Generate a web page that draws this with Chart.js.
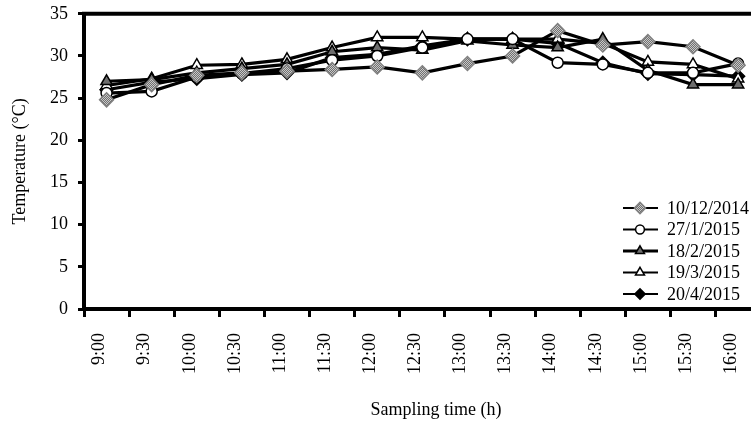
<!DOCTYPE html>
<html>
<head>
<meta charset="utf-8">
<script src="https://cdn.jsdelivr.net/npm/chart.js@4"></script>
<style>
html, body { margin: 0; padding: 0; overflow: hidden; background: #fff; }
#wrap { width: 776px; height: 430px; position: relative; margin-top: -7px; }
</style>
</head>
<body>
<div id="wrap"><canvas id="tempchart"></canvas></div>
<script>
const times = ['9:00', '9:30', '10:00', '10:30', '11:00', '11:30', '12:00', '12:30',
               '13:00', '13:30', '14:00', '14:30', '15:00', '15:30', '16:00']

const dec2014 = [24.8, 26.6, 27.7, 28.0, 28.2, 28.4, 28.7, 28.0, 29.1, 30.0, 33.0, 31.3, 31.7, 31.1, 28.9]
const jan2015 = [25.6, 25.8, 27.5, 27.9, 28.5, 29.5, 30.0, 31.0, 32.0, 32.0, 29.2, 29.0, 28.0, 28.0, 29.1]
const feb2015 = [27.0, 27.2, 28.0, 28.5, 29.0, 30.5, 31.0, 30.7, 31.8, 31.3, 31.0, 32.0, 28.3, 26.6, 26.6]
const mar2015 = [26.5, 27.3, 28.9, 29.0, 29.6, 31.0, 32.2, 32.2, 32.0, 32.0, 32.0, 31.5, 29.3, 29.0, 27.3]
const apr2015 = [26.0, 26.9, 27.3, 27.8, 28.0, 29.8, 30.2, 31.2, 32.0, 32.0, 31.5, 29.2, 27.9, 27.8, 27.6]

const seriesNames = ['10/12/2014', '27/1/2015', '18/2/2015', '19/3/2015', '20/4/2015']
const yTicks = [0, 5, 10, 15, 20, 25, 30, 35]

const serif = '"Liberation Serif", "Times New Roman", serif'
const shift = 7 // canvas sits 7px above the page top

// dotted grey fill like the excel marker
function greyPattern() {
    const c = document.createElement('canvas')
    c.width = 2; c.height = 2
    const g = c.getContext('2d')
    g.fillStyle = '#c8c8c8'; g.fillRect(0, 0, 2, 2)
    g.fillStyle = '#707070'; g.fillRect(0, 0, 1, 1); g.fillRect(1, 1, 1, 1)
    return g.createPattern(c, 'repeat')
}
const grey = greyPattern()

function line(label, data, style, fill, radius, border) {
    return {
        label: label,
        data: data,
        borderColor: '#000',
        borderWidth: 3.2,
        pointStyle: style,
        pointRadius: radius,
        pointHoverRadius: radius,
        pointBackgroundColor: fill,
        pointBorderColor: border,
        pointBorderWidth: 1.5,
        tension: 0,
        fill: false
    }
}

const frameTop = {
    id: 'frameTop',
    afterDatasetsDraw(chart) {
        const { ctx, chartArea } = chart
        ctx.save()
        ctx.strokeStyle = '#000'
        ctx.lineWidth = 4
        ctx.beginPath()
        ctx.moveTo(chartArea.left - 2, chartArea.top)
        ctx.lineTo(chartArea.right, chartArea.top)
        ctx.stroke()
        ctx.restore()
    }
}

const insideLegend = {
    id: 'insideLegend',
    afterDraw(chart) {
        const ctx = chart.ctx
        ctx.save()
        chart.data.datasets.forEach((ds, i) => {
            const y = 208 + shift + i * 21.5
            ctx.strokeStyle = '#000'
            ctx.lineWidth = i == 2 ? 3 : 2
            ctx.beginPath()
            ctx.moveTo(623, y)
            ctx.lineTo(658, y)
            ctx.stroke()
            ctx.fillStyle = ds.pointBackgroundColor
            ctx.strokeStyle = ds.pointBorderColor
            ctx.lineWidth = ds.pointBorderWidth
            Chart.helpers.drawPoint(ctx, {
                pointStyle: ds.pointStyle,
                radius: ds.pointRadius * 0.8,
                borderWidth: ds.pointBorderWidth,
                rotation: 0
            }, 640, y)
            ctx.fillStyle = '#000'
            ctx.font = '18px ' + serif
            ctx.textBaseline = 'middle'
            ctx.textAlign = 'left'
            ctx.fillText(ds.label, 667, y + 1)
        })
        // x axis title
        ctx.font = '18px ' + serif
        ctx.textAlign = 'center'
        ctx.fillText('Sampling time (h)', 436, 410 + shift)
        ctx.restore()
    }
}

const config = {
    type: 'line',
    data: {
        labels: times,
        datasets: [
            line(seriesNames[0], dec2014, 'rectRot', grey, 7, '#808080'),
            line(seriesNames[1], jan2015, 'circle', '#fff', 5.5, '#000'),
            line(seriesNames[2], feb2015, 'triangle', '#6e6e6e', 6.5, '#000'),
            line(seriesNames[3], mar2015, 'triangle', '#fff', 6.5, '#000'),
            line(seriesNames[4], apr2015, 'rectRot', '#000', 6.5, '#000')
        ]
    },
    options: {
        responsive: true,
        maintainAspectRatio: false,
        animation: false,
        layout: { padding: { left: 0, right: 0, top: 6, bottom: 0 } },
        plugins: {
            legend: { display: false },
            tooltip: { enabled: false }
        },
        scales: {
            x: {
                offset: true,
                grid: {
                    display: true,
                    offset: true,
                    drawOnChartArea: false,
                    drawTicks: true,
                    tickLength: 8,
                    tickWidth: 3,
                    tickColor: '#000'
                },
                border: { color: '#000', width: 4 },
                ticks: {
                    color: '#000',
                    font: { family: serif, size: 18 },
                    minRotation: 90,
                    maxRotation: 90,
                    autoSkip: false,
                    padding: 16,
                    labelOffset: -7
                },
                afterFit: function(scale) {
                    scale.height = 114
                }
            },
            y: {
                min: 0,
                max: 35,
                afterBuildTicks: function(scale) {
                    scale.ticks = yTicks.map(v => ({ value: v }))
                },
                grid: {
                    display: true,
                    drawOnChartArea: false,
                    drawTicks: true,
                    tickLength: 6,
                    tickWidth: 3,
                    tickColor: '#000'
                },
                border: { color: '#000', width: 4 },
                ticks: {
                    color: '#000',
                    font: { family: serif, size: 18 },
                    padding: 10
                },
                title: {
                    display: true,
                    text: 'Temperature (°C)',
                    color: '#000',
                    font: { family: serif, size: 18 },
                    padding: { top: 9, bottom: 0 }
                },
                afterFit: function(scale) {
                    scale.width = 84
                }
            }
        }
    },
    plugins: [frameTop, insideLegend]
}

new Chart(document.getElementById('tempchart'), config)
</script>
</body>
</html>
